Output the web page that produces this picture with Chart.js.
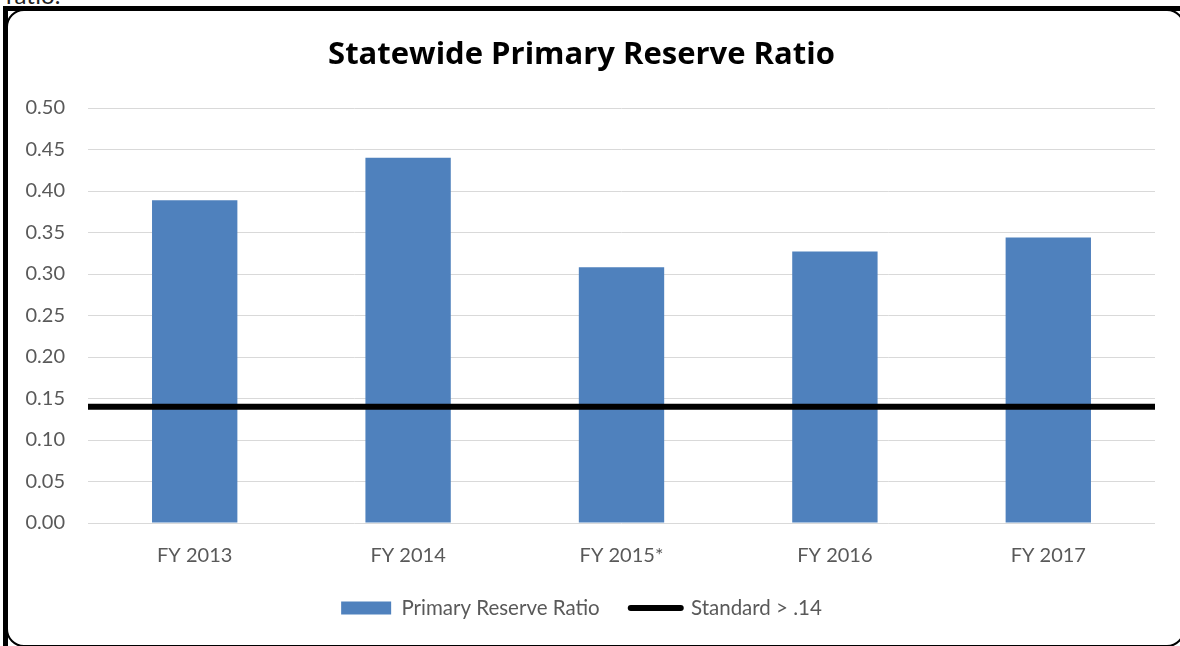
<!DOCTYPE html>
<html><head><meta charset="utf-8">
<script src="https://cdn.jsdelivr.net/npm/chart.js@4"></script>
<style>
html,body{margin:0;padding:0;background:#fff;overflow:hidden;width:1180px;height:646px;position:relative;}
#pre{position:absolute;left:6px;top:-17px;font:24px Lato,sans-serif;line-height:24px;color:#222;white-space:nowrap;}
#wrap{position:absolute;left:8px;top:11px;width:1170px;height:635px;}
#round{position:absolute;left:6px;top:9px;width:1179px;height:638px;border:2px solid #000;border-radius:18px;box-sizing:border-box;}
#frame{position:absolute;left:3px;top:6px;width:1300px;height:800px;border-left:5px solid #000;border-top:5px solid #000;}
</style></head>
<body>
<div id="pre">ratio.</div>
<div id="wrap"><canvas id="c" width="1170" height="635"></canvas></div>
<div id="round"></div>
<div id="frame"></div>
<script>
const categories = ['FY 2013', 'FY 2014', 'FY 2015*', 'FY 2016', 'FY 2017'];
const primaryReserveRatio = [0.389, 0.44, 0.308, 0.327, 0.344];
const standardValue = 0.14;
const standardSpan = [0, 1];
const yTickValues = [0, 0.05, 0.10, 0.15, 0.20, 0.25, 0.30, 0.35, 0.40, 0.45, 0.50];
const seriesNames = ['Primary Reserve Ratio', 'Standard > .14'];
const titleText = 'Statewide Primary Reserve Ratio';

const FONT = 'Lato';
const TXT = '#595959';

new Chart(document.getElementById('c'), {
  type: 'bar',
  data: {
    labels: categories,
    datasets: [
      {
        type: 'bar',
        label: seriesNames[0],
        data: primaryReserveRatio,
        backgroundColor: '#4F81BD',
        borderWidth: 0,
        barPercentage: 0.4,
        categoryPercentage: 1,
        grouped: false,
        order: 2,
        xAxisID: 'x',
        yAxisID: 'y'
      },
      {
        type: 'line',
        label: seriesNames[1],
        data: standardSpan.map(x => ({x: x, y: standardValue})),
        borderColor: '#000',
        backgroundColor: '#000',
        borderWidth: 6,
        pointRadius: 0,
        fill: false,
        order: 1,
        xAxisID: 'x2',
        yAxisID: 'y'
      }
    ]
  },
  options: {
    responsive: false,
    animation: false,
    devicePixelRatio: 1,
    layout: {padding: {left: 0, right: 23, top: 0, bottom: 17.75}},
    scales: {
      x: {
        type: 'category',
        offset: true,
        grid: {display: false, drawTicks: false},
        border: {display: false},
        ticks: {color: TXT, font: {family: FONT, size: 20}, padding: 20.5},
        afterFit: s => { s.height = 43.75; }
      },
      x2: {type: 'linear', display: false, min: 0, max: 1, offset: false},
      y: {
        min: 0, max: 0.5,
        grid: {color: '#D9D9D9', lineWidth: 1, drawTicks: false},
        border: {display: false},
        afterBuildTicks: a => { a.ticks = yTickValues.map(v => ({value: v})); },
        ticks: {color: TXT, font: {family: FONT, size: 20}, padding: 23, callback: v => v.toFixed(2)},
        afterFit: s => { s.width = 80; }
      }
    },
    plugins: {
      title: {
        display: true, text: titleText, color: '#000',
        font: {family: 'Open Sans', size: 31, weight: 'bold'},
        padding: {top: 25.4, bottom: 34.4}
      },
      legend: {
        position: 'bottom',
        labels: {
          color: TXT, font: {family: FONT, size: 20.5},
          usePointStyle: true, pointStyleWidth: 50, boxHeight: 13, padding: 31,
          sort: (a, b) => a.datasetIndex - b.datasetIndex,
          generateLabels: chart => {
            const items = Chart.defaults.plugins.legend.labels.generateLabels(chart);
            items.forEach(it => {
              if (it.datasetIndex === 0) { it.pointStyle = 'rect'; it.lineWidth = 0; it.fillStyle = '#4F81BD'; }
              else { it.pointStyle = 'line'; it.lineCap = 'round'; it.lineWidth = 6; it.strokeStyle = '#000'; }
            });
            return items;
          }
        }
      },
      tooltip: {enabled: false}
    }
  }
});
</script>
</body></html>
